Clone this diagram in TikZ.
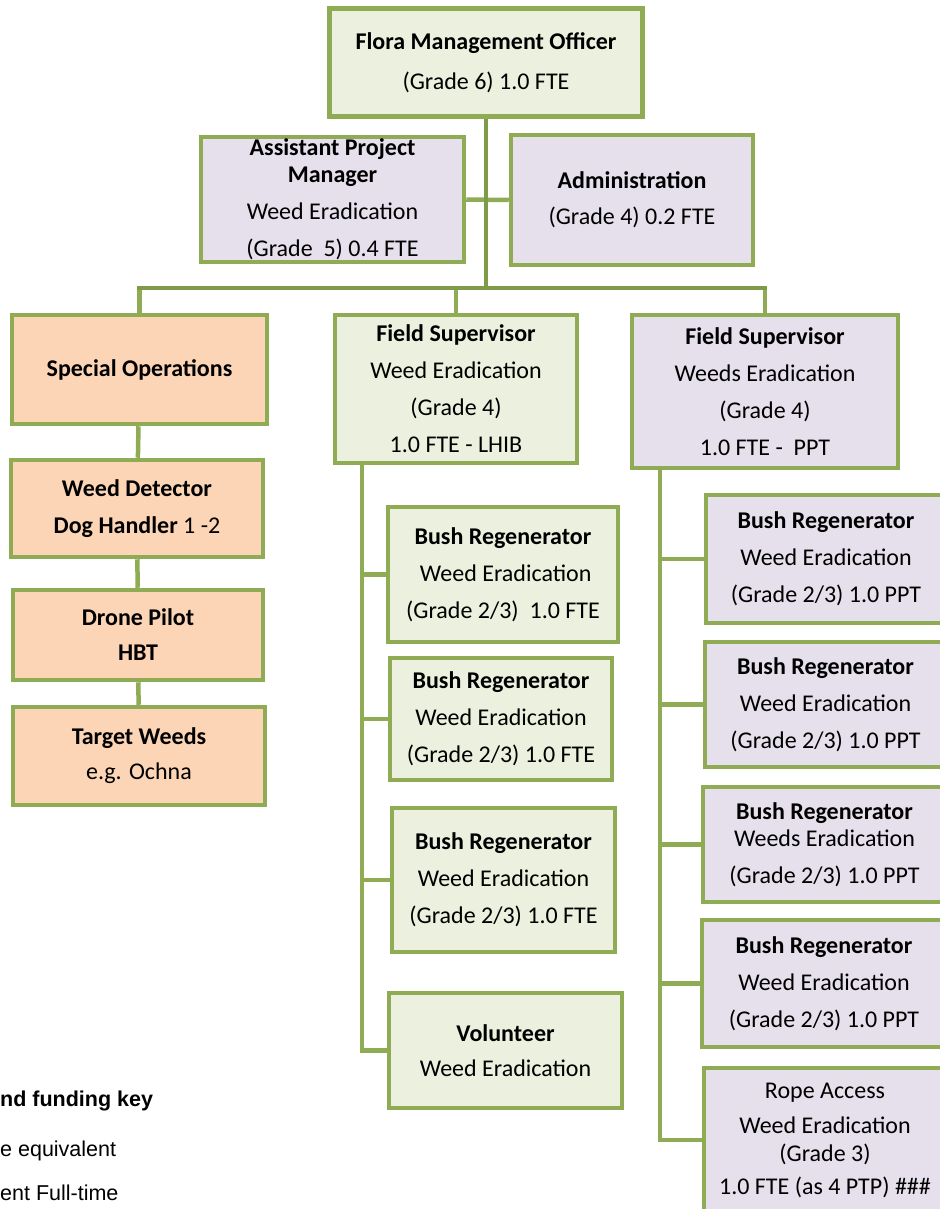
\documentclass[tikz,border=0pt]{standalone}
\usepackage{fontspec}
\setmainfont{Carlito}
\newfontfamily\legendfont{Liberation Sans}
\usepackage{xcolor}
\definecolor{boxgreen}{HTML}{8FAC54}
\definecolor{busgreen}{HTML}{7F9B48}
\definecolor{fillgreen}{HTML}{EBF1DE}
\definecolor{fillpurple}{HTML}{E5E0EC}
\definecolor{fillorange}{HTML}{FBD5B5}

\tikzset{
  role/.style={rectangle, draw=boxgreen, line width=4.5pt, inner sep=0pt, align=center,
    font=\fontsize{24}{37}\selectfont},
  fieldbox/.style={role, fill=fillgreen},
  parkbox/.style={role, fill=fillpurple},
  specbox/.style={role, fill=fillorange},
  link/.style={draw=boxgreen, line width=4.5pt},
  buslink/.style={link, draw=busgreen},
  keytext/.style={anchor=base west, inner sep=0pt, font=\legendfont\fontsize{21.5}{26}\selectfont},
}

\begin{document}
\begin{tikzpicture}[x=1pt, y=-1pt]
\useasboundingbox (0,0) rectangle (939,1209);

% top of the chart
\node[fieldbox, minimum width=313pt, minimum height=108pt] (fmo) at (486,62.5)
  {\textbf{Flora Management Officer}\\[3pt](Grade 6) 1.0 FTE};
\node[parkbox, minimum width=263pt, minimum height=125pt] (apm) at (332.5,199.5)
  {\textbf{Assistant Project}\\[-10pt]\textbf{Manager}\\Weed Eradication\\(Grade\ \ 5) 0.4 FTE};
\node[parkbox, minimum width=242pt, minimum height=130pt] (admin) at (632,200)
  {\textbf{Administration}\\[-1pt](Grade 4) 0.2 FTE};

% special operations
\node[specbox, minimum width=255pt, minimum height=109pt] (specops) at (139.5,369.5)
  {\textbf{Special Operations}};
\node[specbox, minimum width=252pt, minimum height=97pt] (dog) at (137,508.5)
  {\textbf{Weed Detector}\\\textbf{Dog Handler} 1 -2};
\node[specbox, minimum width=250pt, minimum height=90pt] (drone) at (138,635)
  {\textbf{Drone Pilot}\\[-2pt]\textbf{HBT}};
\node[specbox, minimum width=252pt, minimum height=98pt] (target) at (139,756)
  {\textbf{Target Weeds}\\[-2pt]e.g. Ochna};

% field team LHIB
\node[fieldbox, minimum width=242pt, minimum height=148pt] (fsl) at (456,389)
  {\textbf{Field Supervisor}\\Weed Eradication\\(Grade 4)\\1.0 FTE - LHIB};
\node[fieldbox, minimum width=230pt, minimum height=135pt] (br1) at (503,574.5)
  {\textbf{Bush Regenerator}\\\ Weed Eradication\\(Grade 2/3)\ \ 1.0 FTE};
\node[fieldbox, minimum width=222pt, minimum height=122pt] (br2) at (501,719)
  {\textbf{Bush Regenerator}\\Weed Eradication\\(Grade 2/3) 1.0 FTE};
\node[fieldbox, minimum width=223pt, minimum height=144pt] (br3) at (503.5,880)
  {\textbf{Bush Regenerator}\\Weed Eradication\\(Grade 2/3) 1.0 FTE};
\node[fieldbox, minimum width=233pt, minimum height=115pt] (vol) at (505.5,1050.5)
  {\textbf{Volunteer}\\[-2pt]Weed Eradication};

% field team PPT
\node[parkbox, minimum width=266pt, minimum height=153pt] (fsp) at (765,391.5)
  {\textbf{Field Supervisor}\\Weeds Eradication\\(Grade 4)\\1.0 FTE -\ \ PPT};
\node[parkbox, minimum width=240pt, minimum height=128pt] (pbr1) at (826,559)
  {\textbf{Bush Regenerator}\\Weed Eradication\\(Grade 2/3) 1.0 PPT};
\node[parkbox, minimum width=241pt, minimum height=125pt] (pbr2) at (825.5,704.5)
  {\textbf{Bush Regenerator}\\Weed Eradication\\(Grade 2/3) 1.0 PPT};
\node[parkbox, minimum width=243pt, minimum height=115pt] (pbr3) at (824.5,844.5)
  {\textbf{Bush Regenerator}\\[-10pt]Weeds Eradication\\(Grade 2/3) 1.0 PPT};
\node[parkbox, minimum width=244pt, minimum height=127pt] (pbr4) at (824,983.5)
  {\textbf{Bush Regenerator}\\Weed Eradication\\(Grade 2/3) 1.0 PPT};
\node[parkbox, minimum width=242pt, minimum height=144pt] (rope) at (825,1140)
  {Rope Access\\[-2pt]Weed Eradication\\[-9pt](Grade 3)\\[-4pt]1.0 FTE (as 4 PTP) \#\#\#};

% connectors
\coordinate (bus) at ([yshift=-169pt]fmo.south);
\coordinate (spineL) at ([xshift=-94pt]fsl.south);
\coordinate (spineR) at ([xshift=-105pt]fsp.south);
\draw[link] (apm.east) -- (admin.west);
\draw[buslink] (fmo.south) -- (bus);
\draw[link] (specops.north) -- (specops.north |- bus);
\draw[link] (fsl.north) -- (fsl.north |- bus);
\draw[link] (fsp.north) -- (fsp.north |- bus);
\draw[buslink, line cap=rect] (specops.north |- bus) -- (fsp.north |- bus);
\draw[link] (specops) -- (dog);
\draw[link] (dog) -- (drone);
\draw[link] (drone) -- (target);
\draw[link] (spineL) |- (vol.west);
\foreach \b in {br1,br2,br3}
  \draw[link] (spineL |- \b.west) -- (\b.west);
\draw[link] (spineR) |- (rope.west);
\foreach \b in {pbr1,pbr2,pbr3,pbr4}
  \draw[link] (spineR |- \b.west) -- (\b.west);

% key, cut at the left edge
\node[keytext] (keyhead) at (0,1106) {\textbf{nd funding key}};
\node[keytext] (keyfte) at (0,1156) {e equivalent};
\node[keytext] (keyfull) at (0,1200) {ent Full-time};
\end{tikzpicture}
\end{document}
